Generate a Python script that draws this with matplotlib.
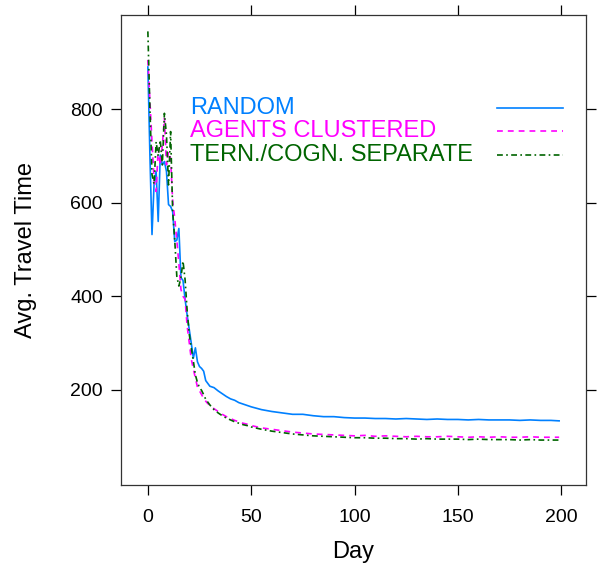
import matplotlib
matplotlib.use("Agg")
import matplotlib.pyplot as plt

plt.rcParams['font.family'] = ['Liberation Sans', 'DejaVu Sans']

# days sampled: daily through the early transient, sparser afterwards
days = list(range(0, 31)) + [32, 34, 36, 38, 40, 42, 44, 46, 48, 50,
                             55, 60, 65, 70, 75, 80, 85, 90, 95, 100,
                             105, 110, 115, 120, 125, 130, 135, 140, 145, 150,
                             155, 160, 165, 170, 175, 180, 185, 190, 195, 199]

random_vals = [890, 700, 532, 640, 667, 560, 702, 681, 688, 667,
               596, 592, 581, 517, 520, 545, 440, 434, 394, 360,
               330, 300, 268, 290, 260, 250, 246, 240, 220, 214,
               208, 205, 198, 192, 186, 181, 178, 173, 170, 167,
               164, 158, 154, 151, 148, 148, 145, 143, 143, 141,
               140, 140, 139, 139, 138, 139, 138, 137, 138, 137,
               137, 136, 137, 136, 136, 136, 135, 136, 135, 135, 134]

clustered_vals = [905, 816, 730, 650, 624, 716, 680, 723, 780, 681,
                  709, 695, 603, 567, 520, 470, 415, 400, 394, 337,
                  302, 266, 245, 225, 206, 198, 190, 182, 176, 171,
                  168, 160, 154, 148, 143, 139, 135, 132, 129, 127,
                  124, 119, 116, 113, 110, 108, 106, 105, 104, 103,
                  102, 103, 101, 102, 101, 100, 101, 100, 100, 101,
                  100, 99, 100, 99, 100, 99, 99, 100, 99, 99, 99]

separate_vals = [966, 800, 660, 640, 730, 700, 734, 681, 791, 745,
                 638, 752, 582, 520, 443, 422, 440, 475, 436, 370,
                 320, 290, 262, 232, 216, 205, 199, 190, 180, 174,
                 168, 158, 151, 145, 140, 136, 132, 129, 126, 124,
                 121, 116, 112, 109, 106, 104, 102, 101, 100, 99,
                 98, 98, 97, 97, 96, 96, 95, 96, 95, 95,
                 95, 94, 95, 94, 94, 94, 93, 94, 93, 93, 93]

series_names = ["RANDOM", "AGENTS CLUSTERED", "TERN./COGN. SEPARATE"]
series_colors = ["#0080ff", "#ff00ff", "#006400"]
series_dashes = [None, (3.5, 3), (3.5, 2, 1, 2)]

fig = plt.figure(figsize=(6.01, 5.69), dpi=100)
ax = fig.add_axes([121 / 601, 1 - 485 / 569, 465 / 601, 470 / 569])

for vals, name, col, dash in zip([random_vals, clustered_vals, separate_vals],
                                 series_names, series_colors, series_dashes):
    line, = ax.plot(days, vals, color=col, lw=1.2)
    if dash is not None:
        line.set_dashes(dash)

ax.set_xlim(-13, 212)
ax.set_ylim(-3, 1001)
ax.set_xticks([0, 50, 100, 150, 200])
ax.set_yticks([200, 400, 600, 800])
ax.tick_params(direction='out', length=7, width=0.9, labelsize=14,
               top=True, right=True, labeltop=False, labelright=False)
ax.tick_params(axis='x', pad=10)
ax.tick_params(axis='y', pad=6)
for sp in ax.spines.values():
    sp.set_linewidth(0.9)
    sp.set_color('#333333')

ax.set_xlabel("Day", fontsize=17, labelpad=11)
ax.set_ylabel("Avg. Travel Time", fontsize=17, labelpad=24)

# key drawn inside the panel, text on the left, line samples on the right
rows_y = [0.802, 0.753, 0.702]
for name, col, dash, yy in zip(series_names, series_colors, series_dashes, rows_y):
    ax.text(0.148, yy, name, color=col, fontsize=17, va='center', ha='left',
            transform=ax.transAxes)
    ln, = ax.plot([0.809, 0.951], [yy, yy], color=col, lw=1.2,
                  transform=ax.transAxes)
    if dash is not None:
        ln.set_dashes(dash)

fig.savefig("out.png", dpi=100)
